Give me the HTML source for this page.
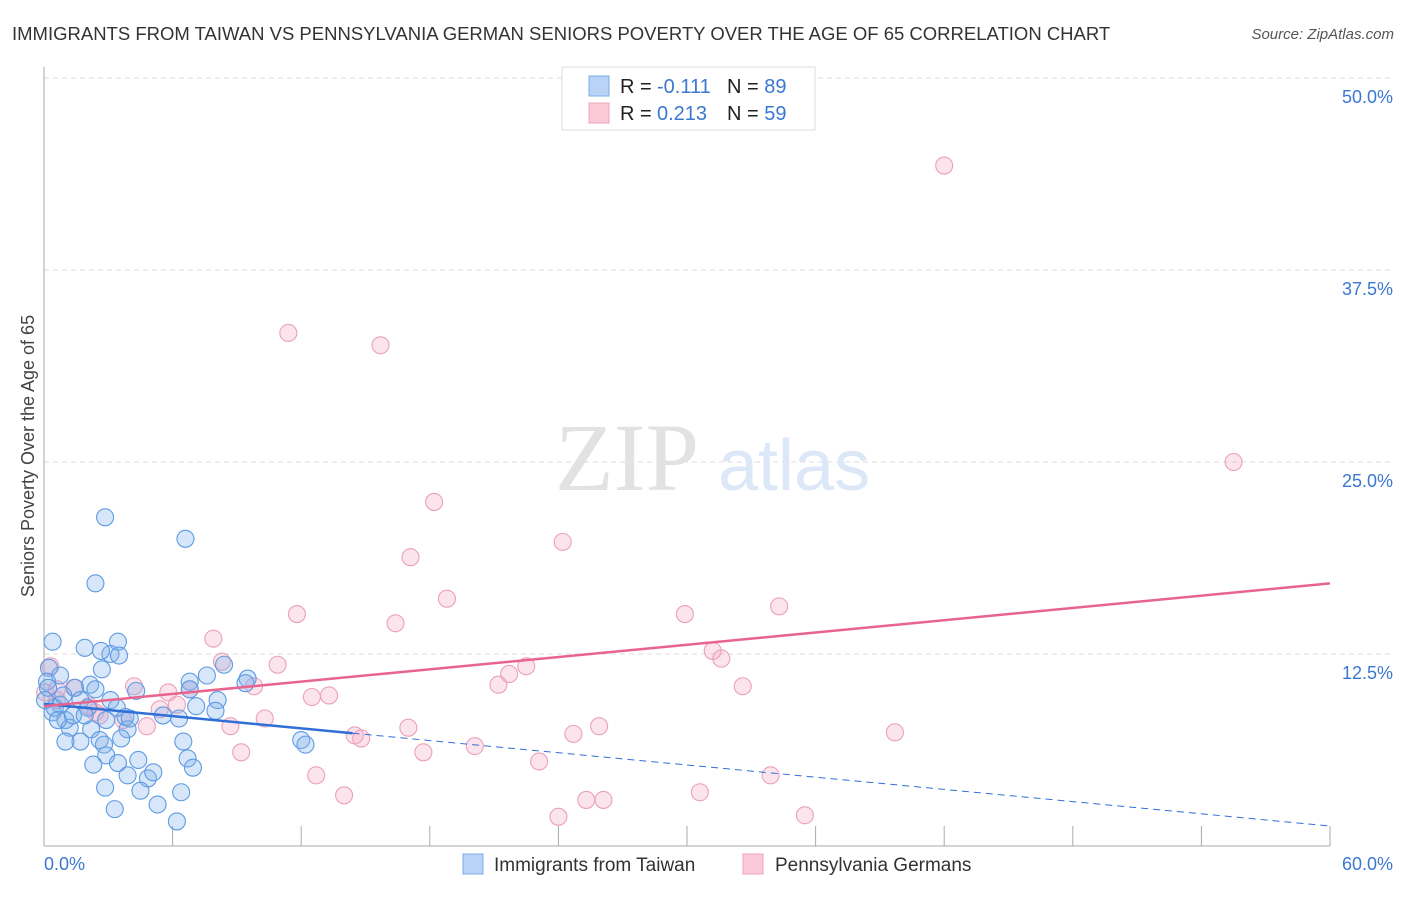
<!DOCTYPE html>
<html><head><meta charset="utf-8"><style>
body{margin:0;background:#fff;font-family:"Liberation Sans",sans-serif;}
</style></head><body>
<svg id="chart" width="1406" height="892" xmlns="http://www.w3.org/2000/svg" font-family="Liberation Sans, sans-serif">
<text x="12" y="40" font-size="18.5" fill="#333">IMMIGRANTS FROM TAIWAN VS PENNSYLVANIA GERMAN SENIORS POVERTY OVER THE AGE OF 65 CORRELATION CHART</text>
<text x="1394" y="39" font-size="15" fill="#555" text-anchor="end" font-style="italic">Source: ZipAtlas.com</text>
<text transform="translate(34,456) rotate(-90)" font-size="18" fill="#444" text-anchor="middle">Seniors Poverty Over the Age of 65</text>
<g id="grid"></g>
<text x="555" y="490" font-size="96" fill="#e2e2e2" font-family="Liberation Serif, serif">ZIP</text>
<text x="718" y="490" font-size="72" fill="#dce8f7">atlas</text>
<g id="pts"></g>
<g id="lines"></g>
<g>
<rect x="562" y="67" width="253" height="63" fill="#fff" stroke="#ddd"/>
<rect x="589" y="76" width="20" height="20" fill="#b8d3f5" stroke="#7aaee6"/>
<rect x="589" y="103" width="20" height="20" fill="#fbc9d8" stroke="#eea3bc"/>
<text x="620" y="93" font-size="20" fill="#222">R = <tspan x="657" fill="#3b78d1">-0.111</tspan><tspan x="727">N = </tspan><tspan fill="#3b78d1">89</tspan></text>
<text x="620" y="120" font-size="20" fill="#222">R = <tspan x="657" fill="#3b78d1">0.213</tspan><tspan x="727">N = </tspan><tspan fill="#3b78d1">59</tspan></text>
</g>
<g>
<rect x="463" y="854" width="20" height="20" fill="#b8d3f5" stroke="#7aaee6"/>
<text x="494" y="871" font-size="19" fill="#333">Immigrants from Taiwan</text>
<rect x="743" y="854" width="20" height="20" fill="#fbc9d8" stroke="#eea3bc"/>
<text x="775" y="871" font-size="19" fill="#333">Pennsylvania Germans</text>
</g>
</svg>
<script>
const yTicks=[12.5,25,37.5,50];
const yTickLabels=["12.5%","25.0%","37.5%","50.0%"];
const xTickCount=10;
const xLabels=["0.0%","60.0%"];
const blueX=[2.85,6.6,2.4,0.4,1.9,3.45,3.1,3.5,2.66,2.7,0.23,0.75,0.14,0.19,1.45,2.15,2.4,4.3,6.8,7.6,8.4,9.5,9.4,6.8,8.1,7.1,8.0,6.3,5.55,3.8,3.9,3.1,3.4,4.0,1.7,0.75,0.4,1.0,1.2,2.2,2.6,1.7,1.0,2.8,3.6,2.05,2.9,0.5,0.65,1.35,0.05,0.9,12.0,12.2,6.5,6.7,6.95,4.4,2.9,3.45,2.3,3.9,4.85,5.1,2.85,4.5,6.4,3.3,5.3,6.2,1.9];
const blueY=[21.4,20.0,17.1,13.3,12.9,13.3,12.5,12.4,12.7,11.5,11.6,11.1,10.7,10.3,10.3,10.5,10.2,10.1,10.7,11.1,11.8,10.9,10.6,10.2,9.5,9.1,8.8,8.3,8.5,8.4,7.6,9.5,9.0,8.3,9.5,9.2,8.7,8.2,7.7,7.6,6.9,6.8,6.8,6.6,7.0,9.0,8.2,9.0,8.2,8.5,9.5,9.8,6.9,6.6,6.8,5.7,5.1,5.6,5.9,5.4,5.3,4.6,4.4,4.8,3.8,3.6,3.5,2.4,2.7,1.6,8.5];
const pinkX=[42.0,11.4,15.7,55.5,18.2,24.2,17.1,18.8,11.8,29.9,34.3,16.4,7.9,31.2,31.6,8.3,10.9,22.5,21.7,21.2,32.6,9.8,4.2,5.8,6.8,12.5,13.3,6.2,5.4,10.3,8.7,4.8,17.0,25.9,24.7,39.7,14.5,14.8,20.1,9.2,17.7,23.1,12.7,33.9,14.0,30.6,26.1,25.3,24.0,35.5,0.3,0.6,1.4,2.1,2.6,3.7,0.6,0.05,2.4];
const pinkY=[44.3,33.4,32.6,25.0,22.4,19.8,18.8,16.1,15.1,15.1,15.6,14.5,13.5,12.7,12.2,12.0,11.8,11.7,11.2,10.5,10.4,10.4,10.4,10.0,10.2,9.7,9.8,9.2,8.9,8.3,7.8,7.8,7.7,7.8,7.3,7.4,7.2,7.0,6.5,6.1,6.1,5.5,4.6,4.6,3.3,3.5,3.0,3.0,1.9,2.0,11.7,10.2,10.3,9.1,8.5,8.2,9.5,10.0,8.7];
const blueTrend=[9.25,1.3];
const blueSolidEnd=14.4;
const pinkTrend=[9.1,17.1];
const X0=44,X1=1330,Y0=846,YT=78;
const sx=v=>X0+(X1-X0)*v/60;
const sy=v=>Y0-(Y0-YT)*v/50;
const NS="http://www.w3.org/2000/svg";
function mk(tag,attrs,parent){const e=document.createElementNS(NS,tag);for(const k in attrs)e.setAttribute(k,attrs[k]);parent.appendChild(e);return e;}
const grid=document.getElementById('grid');
yTicks.forEach((t,i)=>{
 const l=mk('line',{x1:X0,x2:1394,y1:sy(t),y2:sy(t),stroke:'#ddd','stroke-dasharray':'5,4'},grid);
 
 
 const tx=mk('text',{x:1393,y:sy(t)+25,'font-size':18,fill:'#3b78d1','text-anchor':'end'},grid);
 tx.textContent=yTickLabels[i];
 
 
});
const ax=mk('line',{x1:X0,x2:X0,y1:67,y2:Y0,stroke:'#aaa'},grid);


const bx=mk('line',{x1:X0,x2:X1,y1:Y0,y2:Y0,stroke:'#aaa'},grid);


for(let i=1;i<=xTickCount;i++){
 const t=mk('line',{x1:sx(i*6),x2:sx(i*6),y1:826,y2:Y0,stroke:'#aaa'},grid);
 
 
}
const xl0=mk('text',{x:44,y:870,'font-size':18,fill:'#3b78d1'},grid);xl0.textContent=xLabels[0];


const xl1=mk('text',{x:1393,y:870,'font-size':18,fill:'#3b78d1','text-anchor':'end'},grid);xl1.textContent=xLabels[1];


const pts=document.getElementById('pts');
pinkX.forEach((x,i)=>{
 const c=mk('circle',{cx:sx(x),cy:sy(pinkY[i]),r:8.5,fill:'rgba(244,167,196,0.3)',stroke:'#eba0bb','stroke-width':1.1},pts);
 
 
});
blueX.forEach((x,i)=>{
 const c=mk('circle',{cx:sx(x),cy:sy(blueY[i]),r:8.5,fill:'rgba(130,176,232,0.32)',stroke:'#5d9be3','stroke-width':1.1},pts);
 
 
});
const lines=document.getElementById('lines');
const bAt=x=>blueTrend[0]+(blueTrend[1]-blueTrend[0])*x/60;
const b1=mk('line',{x1:sx(0),y1:sy(bAt(0)),x2:sx(blueSolidEnd),y2:sy(bAt(blueSolidEnd)),stroke:'#2f6fd6','stroke-width':2.5},lines);


const b2=mk('line',{x1:sx(blueSolidEnd),y1:sy(bAt(blueSolidEnd)),x2:sx(60),y2:sy(bAt(60)),stroke:'#2f6fd6','stroke-width':1,'stroke-dasharray':'7,5'},lines);


const p1=mk('line',{x1:sx(0),y1:sy(pinkTrend[0]),x2:sx(60),y2:sy(pinkTrend[1]),stroke:'#e8648f','stroke-width':2.5},lines);


</script>
</body></html>
